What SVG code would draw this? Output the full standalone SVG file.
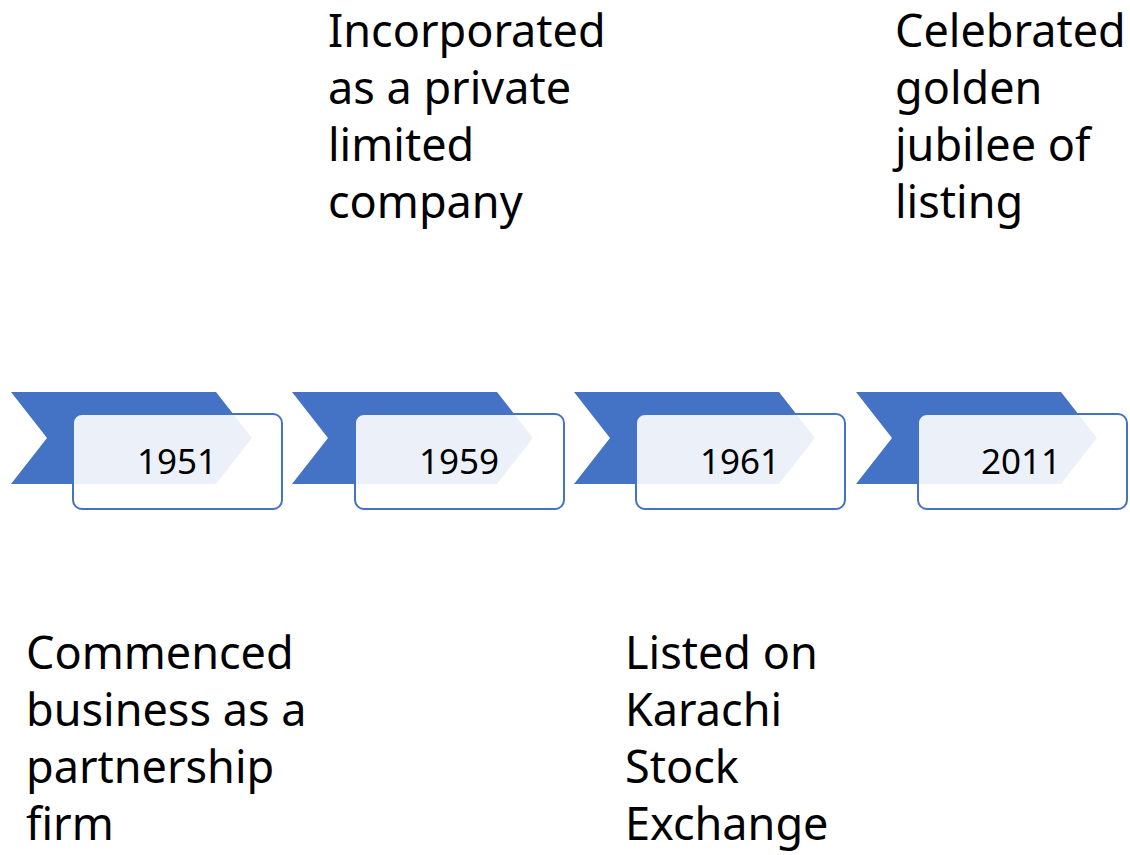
<svg xmlns="http://www.w3.org/2000/svg" width="1130" height="855" viewBox="0 0 1130 855">
  <style>
    .chev { fill: #4472C4; }
    .box { fill: #FFFFFF; fill-opacity: 0.9; stroke: #4472C4; stroke-width: 2; }
    .year { font-family: "Noto Sans", "Open Sans", sans-serif; font-size: 35px; fill: #000000; text-anchor: middle; }
    .desc { font-family: "Noto Sans", "Open Sans", sans-serif; font-size: 45px; fill: #000000; }
  </style>
  <defs>
    <polygon id="chevron" points="0,0 205,0 241,46 205,92 0,92 36,46"/>
  </defs>
  <rect width="1130" height="855" fill="#FFFFFF"/>

  <g id="step-1951">
    <use href="#chevron" class="chev" x="11" y="392"/>
    <rect class="box" x="73" y="414" width="209" height="95" rx="9"/>
    <text class="year" x="177" y="474">1951</text>
    <text class="desc" x="26" y="669">Commenced<tspan x="26" y="726">business as a</tspan><tspan x="26" y="783">partnership</tspan><tspan x="26" y="840">firm</tspan></text>
  </g>

  <g id="step-1959">
    <use href="#chevron" class="chev" x="292" y="392"/>
    <rect class="box" x="355" y="414" width="209" height="95" rx="9"/>
    <text class="year" x="459" y="474">1959</text>
    <text class="desc" x="328" y="47">Incorporated<tspan x="328" y="104">as a private</tspan><tspan x="328" y="161">limited</tspan><tspan x="328" y="218">company</tspan></text>
  </g>

  <g id="step-1961">
    <use href="#chevron" class="chev" x="574" y="392"/>
    <rect class="box" x="636" y="414" width="209" height="95" rx="9"/>
    <text class="year" x="740" y="474">1961</text>
    <text class="desc" x="625" y="669">Listed on<tspan x="625" y="726">Karachi</tspan><tspan x="625" y="783">Stock</tspan><tspan x="625" y="840">Exchange</tspan></text>
  </g>

  <g id="step-2011">
    <use href="#chevron" class="chev" x="856" y="392"/>
    <rect class="box" x="918" y="414" width="209" height="95" rx="9"/>
    <text class="year" x="1021" y="474">2011</text>
    <text class="desc" x="895" y="47">Celebrated<tspan x="895" y="104">golden</tspan><tspan x="895" y="161">jubilee of</tspan><tspan x="895" y="218">listing</tspan></text>
  </g>

  <g id="connectors"/>
</svg>
